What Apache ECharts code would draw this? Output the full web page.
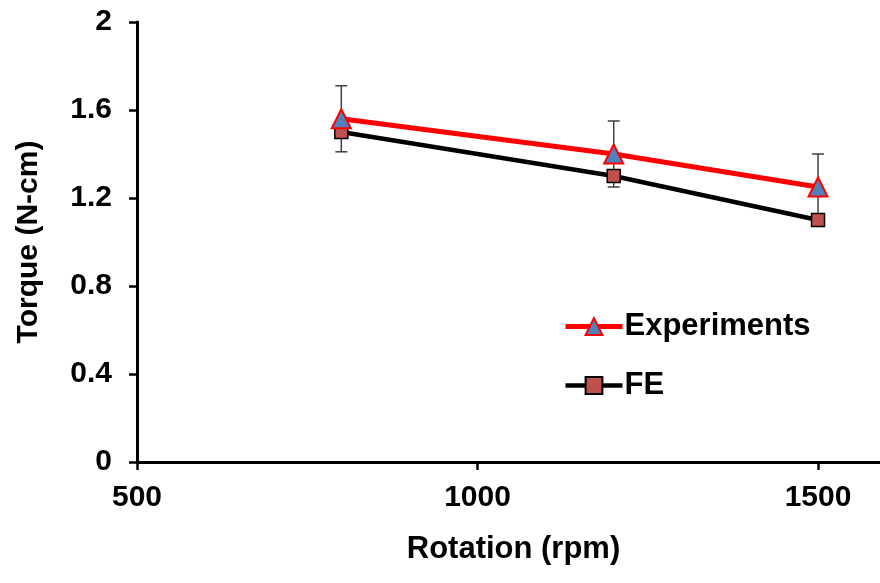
<!DOCTYPE html>
<html><head><meta charset="utf-8">
<script src="https://cdn.jsdelivr.net/npm/echarts@6/dist/echarts.min.js"></script>
<style>html,body{margin:0;padding:0;background:#fff}#c{width:880px;height:583px}</style>
</head><body><div id="c"></div>
<script>
const rotation = [800, 1200, 1500];
const experiments = [1.56, 1.40, 1.25];
const expError = [0.15, 0.15, 0.15];
const fe = [1.50, 1.30, 1.10];
const xTicks = [500, 1000, 1500];
const yTicks = [0, 0.4, 0.8, 1.2, 1.6, 2];

const chart = echarts.init(document.getElementById('c'));
const font = 'Liberation Sans, Arial, sans-serif';
const errData = rotation.map((r, i) => [r, experiments[i] - expError[i], experiments[i] + expError[i]]);

chart.setOption({
  animation: false,
  grid: {left: 137, top: 22, right: 0, bottom: 121},
  legend: {
    orient: 'vertical', left: 563, top: 311, itemGap: 28, padding: 0,
    itemWidth: 57, itemHeight: 21,
    textStyle: {fontFamily: font, fontWeight: 'bold', fontSize: 31, color: '#000', padding: [0, 0, 0, -3]},
    data: [
      {name: 'Experiments', lineStyle: {width: 5, color: '#FF0000'}},
      {name: 'FE', lineStyle: {width: 4.5, color: '#000'}}
    ]
  },
  xAxis: {
    type: 'value', min: 500, max: 1591, interval: 500,
    name: 'Rotation (rpm)', nameLocation: 'middle', nameGap: 72,
    nameTextStyle: {fontFamily: font, fontWeight: 'bold', fontSize: 31, color: '#000', padding: [0, 0, 0, 10]},
    axisLine: {lineStyle: {color: '#000', width: 3}},
    axisTick: {show: true, length: 8, lineStyle: {color: '#000', width: 2.5}, customValues: xTicks},
    axisLabel: {fontFamily: font, fontWeight: 'bold', fontSize: 30, color: '#000', margin: 21,
      customValues: xTicks, formatter: v => String(v)},
    splitLine: {show: false}
  },
  yAxis: {
    type: 'value', min: 0, max: 2, interval: 0.4,
    name: 'Torque (N-cm)', nameLocation: 'middle', nameGap: 93,
    nameTextStyle: {fontFamily: font, fontWeight: 'bold', fontSize: 30, color: '#000'},
    axisLine: {lineStyle: {color: '#000', width: 3}},
    axisTick: {show: true, length: 8, lineStyle: {color: '#000', width: 2.5}},
    axisLabel: {fontFamily: font, fontWeight: 'bold', fontSize: 30, color: '#000', margin: 25,
      formatter: v => { const t = yTicks.find(y => Math.abs(y - v) < 1e-6); return t === undefined ? '' : (t === 0 || t === 2 ? String(t) : t.toFixed(1)); }},
    splitLine: {show: false}
  },
  series: [
    {
      type: 'custom', name: 'err', z: 1, silent: true,
      data: errData,
      renderItem: function (params, api) {
        const x = api.value(0);
        const lo = api.coord([x, api.value(1)]);
        const hi = api.coord([x, api.value(2)]);
        const hw = 6;
        const style = {stroke: '#404040', lineWidth: 1.5};
        return {type: 'group', children: [
          {type: 'line', shape: {x1: lo[0], y1: lo[1], x2: hi[0], y2: hi[1]}, style},
          {type: 'line', shape: {x1: lo[0] - hw, y1: lo[1], x2: lo[0] + hw, y2: lo[1]}, style},
          {type: 'line', shape: {x1: hi[0] - hw, y1: hi[1], x2: hi[0] + hw, y2: hi[1]}, style}
        ]};
      }
    },
    {
      type: 'line', name: 'FE', z: 3,
      data: rotation.map((r, i) => [r, fe[i]]),
      lineStyle: {color: '#000', width: 4.5},
      symbol: 'rect', symbolSize: 13,
      itemStyle: {color: '#C0504D', borderColor: '#000', borderWidth: 1.5}
    },
    {
      type: 'line', name: 'Experiments', z: 4,
      data: rotation.map((r, i) => [r, experiments[i]]),
      lineStyle: {color: '#FF0000', width: 5},
      symbol: 'triangle', symbolSize: 19,
      itemStyle: {color: '#4F81BD', borderColor: '#FF0000', borderWidth: 2}
    }
  ]
});
</script></body></html>
